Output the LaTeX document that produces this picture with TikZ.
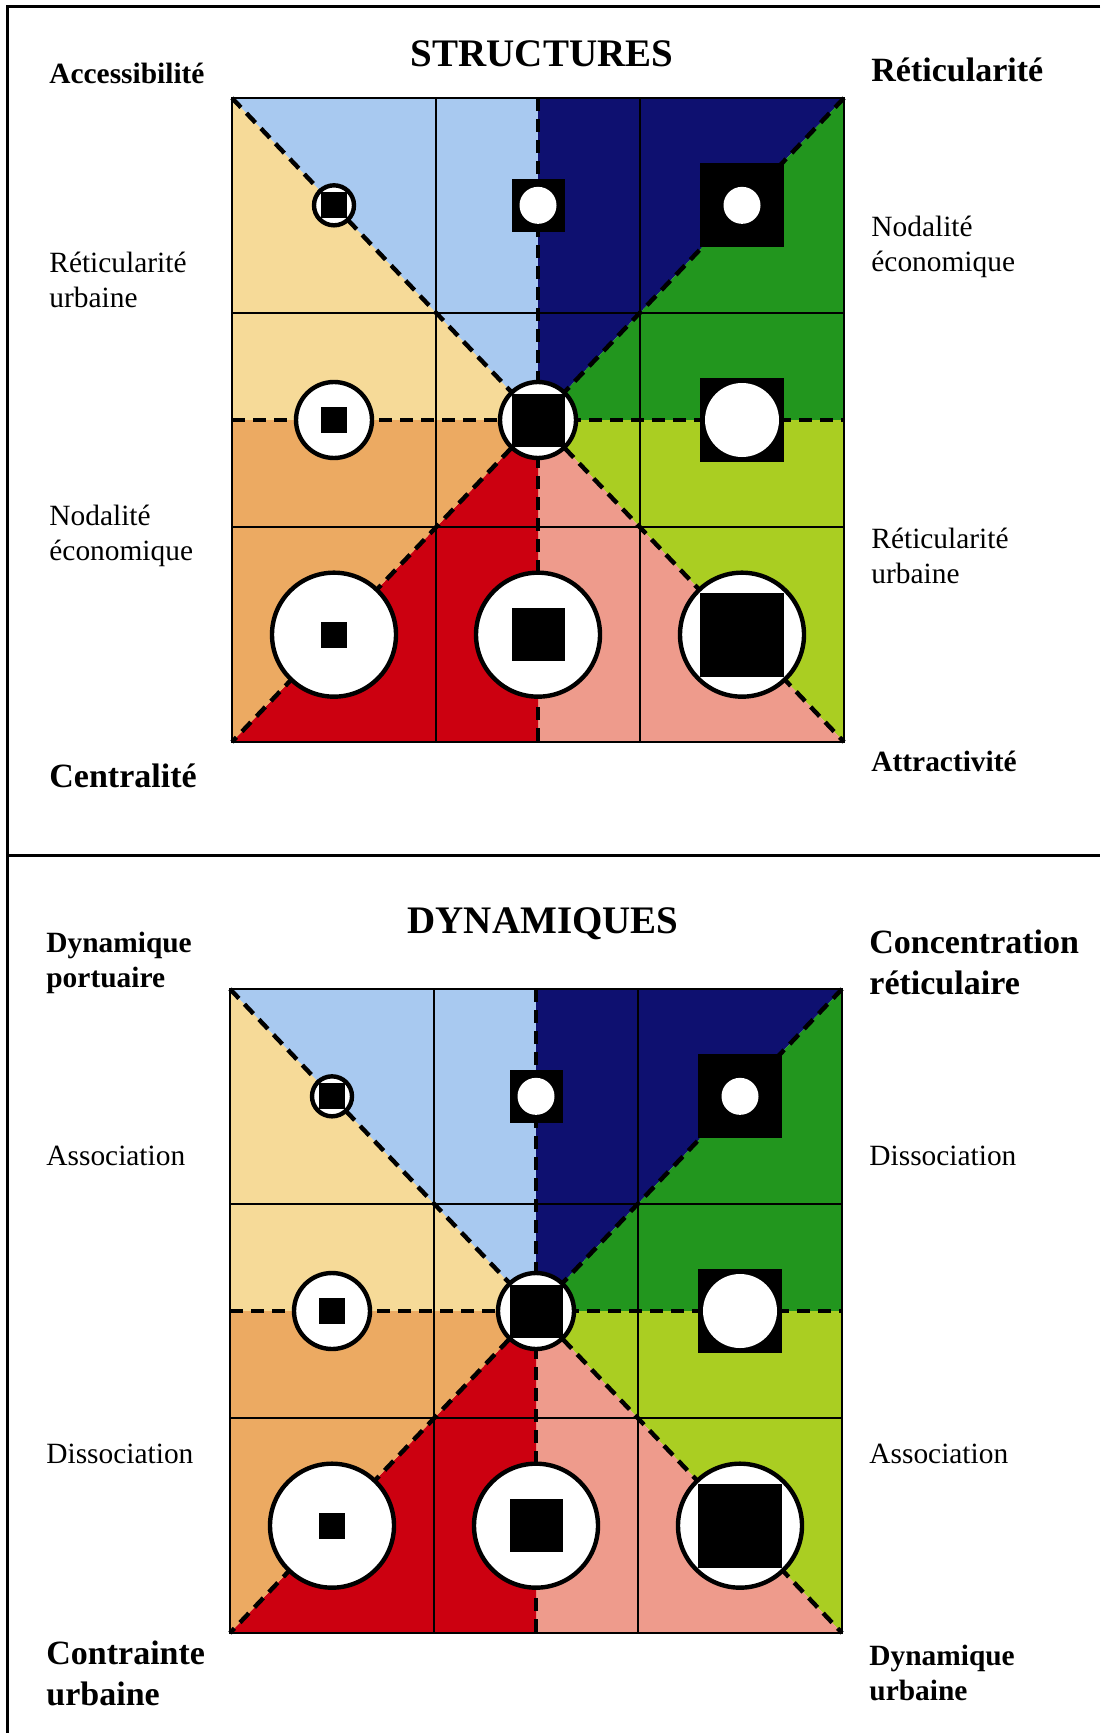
\documentclass[tikz,border=0pt]{standalone}
\usepackage{fontspec}
\setmainfont{Liberation Serif}
\usepackage{xcolor}
\usepackage{tikz}
\usetikzlibrary{positioning, calc}
\definecolor{sky}{RGB}{168, 201, 240}
\definecolor{navy}{RGB}{14, 16, 112}
\definecolor{leaf}{RGB}{34, 150, 30}
\definecolor{lime}{RGB}{170, 206, 34}
\definecolor{salmon}{RGB}{238, 155, 140}
\definecolor{brick}{RGB}{204, 0, 16}
\definecolor{apricot}{RGB}{236, 170, 98}
\definecolor{wheat}{RGB}{246, 218, 152}

\begin{document}
\begin{tikzpicture}[x=0.5pt, y=-0.5pt,
  ring/.style={circle, draw, line width=2.2pt, fill=white, inner sep=0pt},
  ringS/.style={ring, minimum size=20pt},
  ringM/.style={ring, minimum size=38pt},
  ringL/.style={ring, minimum size=62pt},
  box/.style={rectangle, fill=black, inner sep=0pt},
  boxS/.style={box, minimum size=13pt},
  boxM/.style={box, minimum size=26.5pt},
  boxL/.style={box, minimum size=42pt},
  dot/.style={circle, fill=white, inner sep=0pt},
  dotS/.style={dot, minimum size=18.5pt},
  dotL/.style={dot, minimum size=37pt},
  gridline/.style={line width=1pt},
  divider/.style={line width=2.2pt, dash pattern=on 6.5pt off 4pt},
  lab/.style={anchor=west, inner sep=0pt, align=left, font=\fontsize{14.7}{17.6}\selectfont},
  labbold/.style={lab, font=\fontsize{14.7}{17.6}\selectfont\bfseries},
  labbig/.style={lab, font=\fontsize{17}{20.5}\selectfont\bfseries},
  heading/.style={anchor=base, inner sep=0pt, font=\fontsize{19.5}{23}\selectfont\bfseries}]
  \useasboundingbox (0,0) rectangle (1100,1733);

  % Frame
  \draw[line width=1.5pt] (1100,7) -- (7,7) -- (7,1733);
  \draw[line width=1.5pt] (7,855) -- (1100,855);

  % Panels
  \foreach \dx/\dy/\p in {0/0/s, -2/891/d} {
    \begin{scope}[shift={(\dx,\dy)}]
      \coordinate (tl\p) at (232,98);
      \coordinate (t\p) at (538,98);
      \coordinate (tr\p) at (844,98);
      \coordinate (r\p) at (844,420);
      \coordinate (br\p) at (844,742);
      \coordinate (b\p) at (538,742);
      \coordinate (bl\p) at (232,742);
      \coordinate (l\p) at (232,420);
      \coordinate (c\p) at (538,420);

      % Sectors
      \fill[wheat] (c\p) -- (l\p) -- (tl\p) -- cycle;
      \fill[sky] (c\p) -- (tl\p) -- (t\p) -- cycle;
      \fill[navy] (c\p) -- (t\p) -- (tr\p) -- cycle;
      \fill[leaf] (c\p) -- (tr\p) -- (r\p) -- cycle;
      \fill[lime] (c\p) -- (r\p) -- (br\p) -- cycle;
      \fill[salmon] (c\p) -- (br\p) -- (b\p) -- cycle;
      \fill[brick] (c\p) -- (b\p) -- (bl\p) -- cycle;
      \fill[apricot] (c\p) -- (bl\p) -- (l\p) -- cycle;

      % Grid
      \draw[gridline] (tl\p) rectangle (br\p);
      \foreach \k in {1,2} {
        \draw[gridline] (232+204*\k,98) -- (232+204*\k,742);
        \draw[gridline] (232,98+214.67*\k) -- (844,98+214.67*\k);
      }

      % Dashed axes
      \draw[divider] (t\p) -- (b\p);
      \draw[divider] (l\p) -- (r\p);
      \draw[divider] (tl\p) -- (br\p);
      \draw[divider] (tr\p) -- (bl\p);

      % Symbols
      \foreach \col/\row/\outer/\inner in {0/0/ringS/boxS, 1/0/boxM/dotS, 2/0/boxL/dotS,
          0/1/ringM/boxS, 1/1/ringM/boxM, 2/1/boxL/dotL,
          0/2/ringL/boxS, 1/2/ringL/boxM, 2/2/ringL/boxL} {
        \node[\outer] (o\p\col\row) at ({334+204*\col},{205.33+214.67*\row}) {};
        \node[\inner] (i\p\col\row) at (o\p\col\row) {};
      }
    \end{scope}
  }

  % Structures labels
  \node[heading] (structures) at (542,67) {STRUCTURES};
  \node[labbold] (access) at (49,73) {Accessibilité};
  \node[labbig] (reticul) at (871,70) {Réticularité};
  \node[lab] (reticurb) at (49,280) {Réticularité\\urbaine};
  \node[lab] (nodaleco) at (49,536) {Nodalité\\économique};
  \node[labbig] (central) at (49,776) {Centralité};
  \node[lab] (nodalecoR) at (871,247) {Nodalité\\économique};
  \node[lab] (reticurbR) at (871,556) {Réticularité\\urbaine};
  \node[labbold] (attract) at (871,761) {Attractivité};

  % Dynamiques labels
  \node[heading] (dynamiques) at (543,933) {DYNAMIQUES};
  \node[labbold] (dynport) at (46,963) {Dynamique\\portuaire};
  \node[labbig] (concret) at (869,962) {Concentration\\réticulaire};
  \node[lab] (assoc) at (46,1156) {Association};
  \node[lab] (dissoc) at (46,1454) {Dissociation};
  \node[labbig] (contrurb) at (46,1673) {Contrainte\\urbaine};
  \node[lab] (dissocR) at (869,1156) {Dissociation};
  \node[lab] (assocR) at (869,1454) {Association};
  \node[labbold] (dynurb) at (869,1673) {Dynamique\\urbaine};
\end{tikzpicture}
\end{document}
